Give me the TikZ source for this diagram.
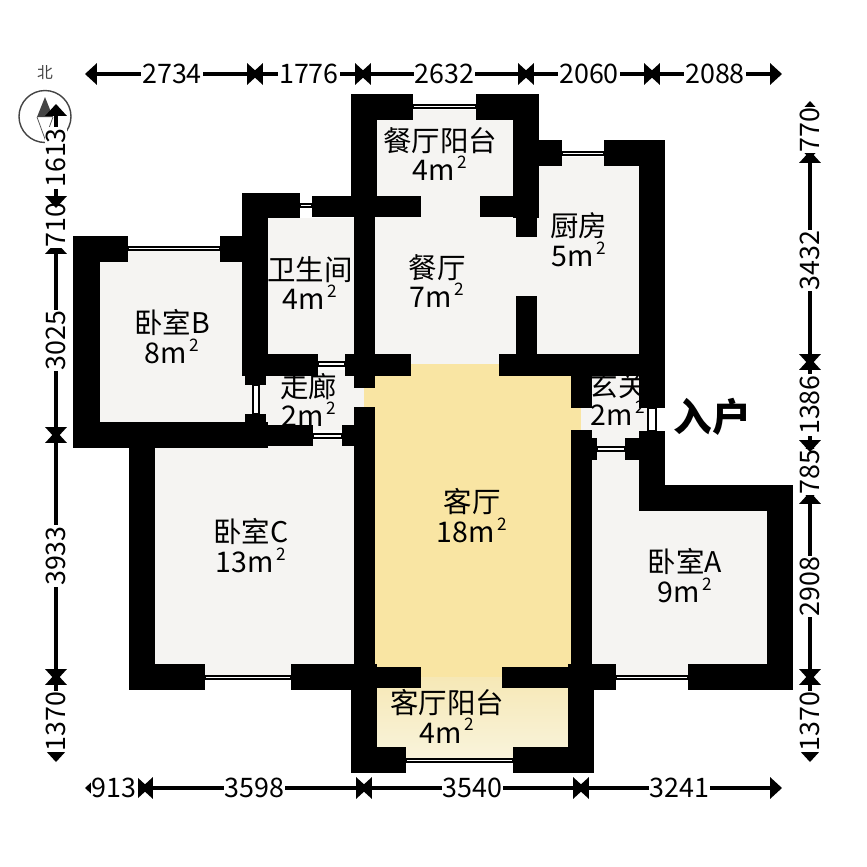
\documentclass[tikz,border=0pt]{standalone}
\usepackage{fontspec}
\setmainfont{Noto Sans CJK SC}
\usetikzlibrary{arrows.meta}
\definecolor{floorgrey}{HTML}{F5F4F2}
\definecolor{livingyellow}{HTML}{F9E5A3}
\definecolor{balctop}{HTML}{F6E8B6}
\definecolor{balcbottom}{HTML}{F9F4DC}
\definecolor{compassgrey}{HTML}{444444}
\newcommand{\sqm}{\kern1.5pt\raisebox{7pt}{\fontsize{9.8pt}{10pt}\selectfont 2}}
\tikzset{
  >={Triangle[length=6.8pt,width=12pt]},
  wall/.style={fill=black},
  floorarea/.style={fill=floorgrey},
  winbox/.style={draw=black,line width=1pt,fill=white},
  roomlabel/.style={align=center,inner sep=0pt,font=\fontsize{16.2pt}{17pt}\selectfont},
  dimline/.style={<->,line width=2.2pt,shorten >=-2.3pt,shorten <=-2.3pt},
  dimlabel/.style={fill=white,inner sep=.6pt,font=\fontsize{15.3pt}{16pt}\selectfont},
}
\begin{document}
\begin{tikzpicture}[x=0.02cm,y=-0.02cm]
\useasboundingbox (0,0) rectangle (867,867);
\fill[floorarea] (377,110) rectangle (513,200);
\fill[floorarea] (375,200) rectangle (530,364);
\fill[floorarea] (530,157) rectangle (639,364);
\fill[floorarea] (268,218) rectangle (354,364);
\fill[floorarea] (100,250) rectangle (253,425);
\fill[floorarea] (253,370) rectangle (364,430);
\fill[floorarea] (155,440) rectangle (354,677);
\fill[floorarea] (575,370) rectangle (650,460);
\fill[floorarea] (592,450) rectangle (639,677);
\fill[floorarea] (592,511) rectangle (767,677);
\fill[livingyellow] (375,364) rectangle (571,677);
\fill[livingyellow] (364,388) rectangle (375,407);
\fill[livingyellow] (571,408) rectangle (581,430);
\fill[top color=balctop,bottom color=balcbottom] (377,677) rectangle (568,760);
\node[roomlabel] (balconyN) at (440,154) {餐厅阳台\\4m\sqm};
\node[roomlabel] (kitchen) at (578.5,240) {厨房\\5m\sqm};
\node[roomlabel] (bath) at (310,283) {卫生间\\4m\sqm};
\node[roomlabel] (dining) at (437,281) {餐厅\\7m\sqm};
\node[roomlabel] (bedB) at (172,337) {卧室B\\8m\sqm};
\node[roomlabel] (corridor) at (309,400) {走廊\\2m\sqm};
\node[roomlabel] (foyer) at (618,399) {玄关\\2m\sqm};
\node[roomlabel] (living) at (472,516) {客厅\\18m\sqm};
\node[roomlabel] (bedC) at (251,546) {卧室C\\13m\sqm};
\node[roomlabel] (bedA) at (685,576) {卧室A\\9m\sqm};
\node[roomlabel] (balconyS) at (447,716) {客厅阳台\\4m\sqm};
\fill[wall] (351,94) rectangle (377,196);
\fill[wall] (351,94) rectangle (413,120);
\fill[wall] (476,94) rectangle (539,120);
\fill[wall] (513,94) rectangle (539,218);
\fill[wall] (480,196) rectangle (539,217);
\fill[wall] (516,218) rectangle (537,237);
\fill[wall] (539,140) rectangle (562,166);
\fill[wall] (604,140) rectangle (665,166);
\fill[wall] (639,140) rectangle (665,408);
\fill[wall] (242,193) rectangle (300,218);
\fill[wall] (312,196) rectangle (421,217);
\fill[wall] (354,196) rectangle (375,388);
\fill[wall] (242,193) rectangle (268,376);
\fill[wall] (245,376) rectangle (266,385);
\fill[wall] (242,354) rectangle (318,376);
\fill[wall] (345,354) rectangle (411,376);
\fill[wall] (499,354) rectangle (665,376);
\fill[wall] (516,296) rectangle (537,354);
\fill[wall] (571,354) rectangle (592,408);
\fill[wall] (73,236) rectangle (128,262);
\fill[wall] (220,236) rectangle (268,262);
\fill[wall] (73,236) rectangle (100,448);
\fill[wall] (73,422) rectangle (268,448);
\fill[wall] (245,414) rectangle (266,422);
\fill[wall] (268,425) rectangle (313,446);
\fill[wall] (342,425) rectangle (375,446);
\fill[wall] (354,407) rectangle (375,667);
\fill[wall] (129,447) rectangle (155,690);
\fill[wall] (129,664) rectangle (205,690);
\fill[wall] (291,664) rectangle (377,690);
\fill[wall] (351,664) rectangle (377,773);
\fill[wall] (375,667) rectangle (421,688);
\fill[wall] (351,747) rectangle (406,773);
\fill[wall] (502,667) rectangle (594,688);
\fill[wall] (571,430) rectangle (592,667);
\fill[wall] (571,438) rectangle (597,460);
\fill[wall] (568,664) rectangle (616,690);
\fill[wall] (568,664) rectangle (594,773);
\fill[wall] (513,747) rectangle (594,773);
\fill[wall] (688,664) rectangle (793,690);
\fill[wall] (767,485) rectangle (793,690);
\fill[wall] (639,485) rectangle (793,511);
\fill[wall] (639,431) rectangle (665,511);
\fill[wall] (625,438) rectangle (665,460);
\draw[winbox] (413,105) rectangle (476,108);
\draw[winbox] (562,152) rectangle (604,155);
\draw[winbox] (300,204) rectangle (312,207);
\draw[winbox] (128,247) rectangle (220,250);
\draw[winbox] (318,362) rectangle (345,366);
\draw[winbox] (253,385) rectangle (259,414);
\draw[winbox] (313,434) rectangle (342,438);
\draw[winbox] (648,408) rectangle (656,431);
\draw[winbox] (597,447) rectangle (625,451);
\draw[winbox] (205,676) rectangle (291,679);
\draw[winbox] (616,676) rectangle (688,679);
\draw[winbox] (406,759) rectangle (513,762);
\node[inner sep=0pt,font=\fontsize{22pt}{22pt}\selectfont\bfseries] (entry) at (712,417) {入户};
\node[inner sep=0pt,text=compassgrey,font=\fontsize{9pt}{9pt}\selectfont] (north) at (45,73) {北};
\coordinate (compass) at (45,116.5);
\draw[compassgrey,line width=.8pt] (compass) circle[radius=26];
\fill[compassgrey] (45,97) -- (37,117) -- (53,117) -- cycle;
\draw[compassgrey,line width=.4pt] (37,117) -- (45,139) -- (53,117);
\coordinate (t0) at (89,74);
\coordinate (t1) at (255,74);
\coordinate (t2) at (363,74);
\coordinate (t3) at (526,74);
\coordinate (t4) at (652,74);
\coordinate (t5) at (778,74);
\draw[dimline] (t0) -- node[dimlabel] (t01) {2734} (t1);
\draw[dimline] (t1) -- node[dimlabel] (t12) {1776} (t2);
\draw[dimline] (t2) -- node[dimlabel] (t23) {2632} (t3);
\draw[dimline] (t3) -- node[dimlabel] (t34) {2060} (t4);
\draw[dimline] (t4) -- node[dimlabel] (t45) {2088} (t5);
\coordinate (b0) at (89,788);
\coordinate (b1) at (145,788);
\coordinate (b2) at (364,788);
\coordinate (b3) at (581,788);
\coordinate (b4) at (778,788);
\draw[dimline] (b1) -- node[dimlabel] (b12) {3598} (b2);
\draw[dimline] (b2) -- node[dimlabel] (b23) {3540} (b3);
\draw[dimline] (b3) -- node[dimlabel] (b34) {3241} (b4);
\draw[dimline] (b0) -- node[dimlabel,pos=.45] (b01) {913} (b1);
\coordinate (l0) at (56,108);
\coordinate (l1) at (56,204);
\coordinate (l2) at (56,246);
\coordinate (l3) at (56,435);
\coordinate (l4) at (56,677);
\coordinate (l5) at (56,758);
\draw[dimline] (l4) -- node[dimlabel,rotate=90,pos=.55] (l45) {1370} (l5);
\draw[dimline] (l3) -- node[dimlabel,rotate=90] (l34) {3933} (l4);
\draw[dimline] (l2) -- node[dimlabel,rotate=90] (l23) {3025} (l3);
\draw[dimline] (l1) -- node[dimlabel,rotate=90] (l12) {710} (l2);
\draw[dimline] (l0) -- node[dimlabel,rotate=90,pos=.52] (l01) {1613} (l1);
\coordinate (r0) at (810,105);
\coordinate (r1) at (810,155);
\coordinate (r2) at (810,362);
\coordinate (r3) at (810,448);
\coordinate (r4) at (810,496);
\coordinate (r5) at (810,677);
\coordinate (r6) at (810,758);
\draw[dimline] (r5) -- node[dimlabel,rotate=90,pos=.55] (r56) {1370} (r6);
\draw[dimline] (r4) -- node[dimlabel,rotate=90] (r45) {2908} (r5);
\draw[dimline] (r3) -- node[dimlabel,rotate=90] (r34) {785} (r4);
\draw[dimline] (r2) -- node[dimlabel,rotate=90] (r23) {1386} (r3);
\draw[dimline] (r1) -- node[dimlabel,rotate=90,pos=.51] (r12) {3432} (r2);
\draw[dimline] (r0) -- node[dimlabel,rotate=90] (r01) {770} (r1);
\end{tikzpicture}
\end{document}
